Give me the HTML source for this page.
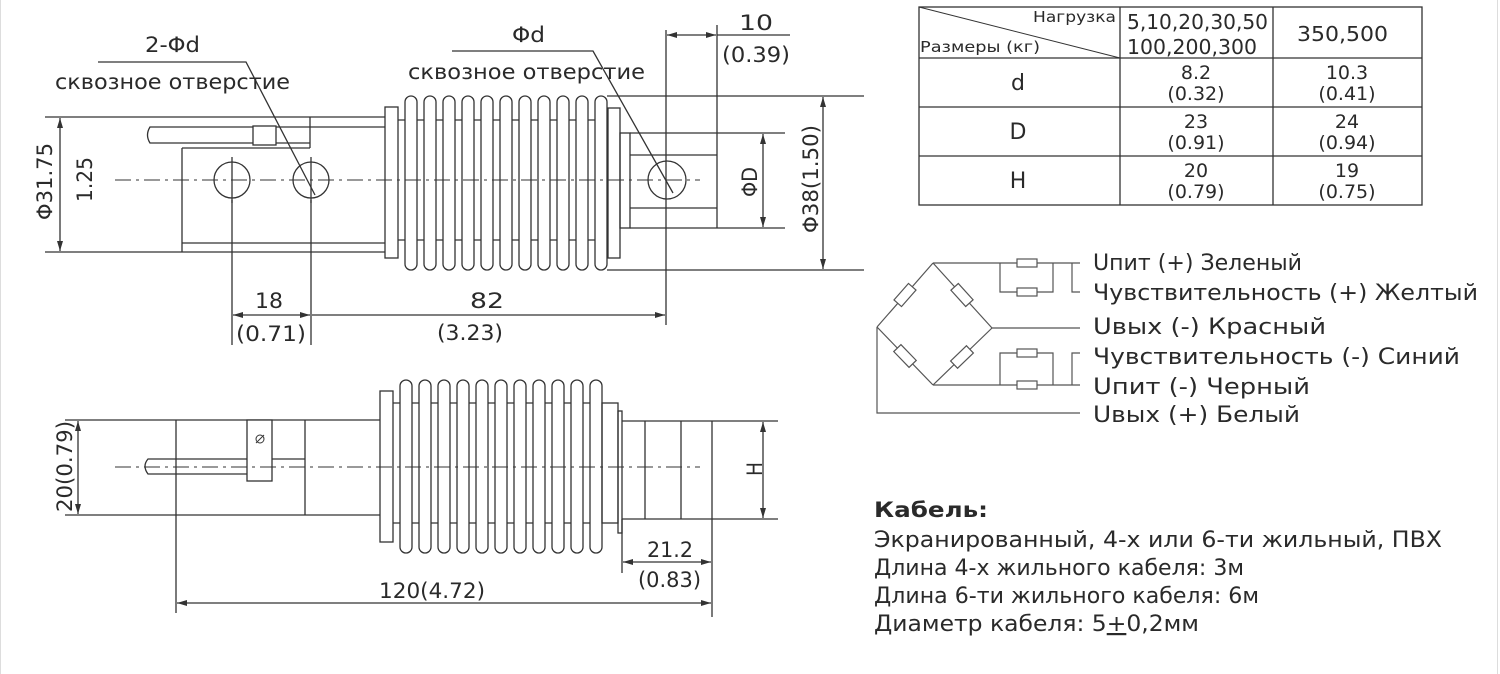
<!DOCTYPE html>
<html><head><meta charset="utf-8"><style>
html,body{margin:0;padding:0;background:#fff;}
svg{display:block;}
text{font-family:"DejaVu Sans","Liberation Sans",sans-serif;fill:#2a2a2a;}
</style></head><body>
<svg width="1500" height="674" viewBox="0 0 1500 674" xmlns="http://www.w3.org/2000/svg">
<defs>
<marker id="a" viewBox="0 0 10 6" refX="10" refY="3" markerWidth="10" markerHeight="6" orient="auto-start-reverse" markerUnits="userSpaceOnUse"><path d="M0,0 L10,3 L0,6" fill="#333"/></marker>
</defs>
<rect x="0.5" y="-1" width="1497" height="680" fill="none" stroke="#ddd"/>
<g stroke="#333" stroke-width="1.3" fill="none">
<line x1="45" y1="117" x2="310" y2="117"/>
<line x1="45" y1="252" x2="385" y2="252"/>
<line x1="60" y1="118" x2="60" y2="251" marker-start="url(#a)" marker-end="url(#a)"/>
<line x1="182" y1="148" x2="182" y2="252"/>
<line x1="182" y1="148" x2="310" y2="148"/>
<line x1="182" y1="243" x2="385" y2="243"/>
<path d="M310,127 L150,127 Q145,135 150,143 L310,143"/>
<rect x="253" y="126" width="23" height="19" fill="#fff"/>
<line x1="310" y1="117" x2="310" y2="148"/>
<line x1="310" y1="117" x2="385" y2="117"/>
<line x1="310" y1="127" x2="385" y2="127"/>
<circle cx="232" cy="180" r="18"/>
<circle cx="311" cy="180" r="18"/>
<line x1="232" y1="157" x2="232" y2="203"/>
<line x1="311" y1="157" x2="311" y2="203"/>
<line x1="232" y1="200" x2="232" y2="345"/>
<line x1="311" y1="200" x2="311" y2="345"/>
<line x1="233" y1="315" x2="310" y2="315" marker-start="url(#a)" marker-end="url(#a)"/>
<line x1="312" y1="315" x2="665" y2="315" marker-end="url(#a)"/>
<rect x="385" y="107" width="13" height="151"/>
<line x1="398" y1="120" x2="607" y2="120"/>
<line x1="398" y1="240" x2="607" y2="240"/>
<g fill="#fff">
<rect x="405" y="96" width="12" height="174" rx="6"/><rect x="424" y="96" width="12" height="174" rx="6"/><rect x="443" y="96" width="12" height="174" rx="6"/><rect x="462" y="96" width="12" height="174" rx="6"/><rect x="481" y="96" width="12" height="174" rx="6"/><rect x="500" y="96" width="12" height="174" rx="6"/><rect x="519" y="96" width="12" height="174" rx="6"/><rect x="538" y="96" width="12" height="174" rx="6"/><rect x="557" y="96" width="12" height="174" rx="6"/><rect x="576" y="96" width="12" height="174" rx="6"/><rect x="595" y="96" width="12" height="174" rx="6"/>
</g>
<rect x="608" y="108" width="12" height="150"/>
<rect x="620" y="133" width="10" height="95"/>
<line x1="607" y1="96" x2="864" y2="96"/>
<line x1="607" y1="270" x2="864" y2="270"/>
<line x1="630" y1="133" x2="785" y2="133"/>
<line x1="630" y1="228" x2="785" y2="228"/>
<line x1="630" y1="155" x2="717" y2="155"/>
<line x1="630" y1="208" x2="717" y2="208"/>
<circle cx="667" cy="180" r="19"/>
<line x1="666" y1="30" x2="666" y2="325"/>
<line x1="717" y1="25" x2="717" y2="228"/>
<line x1="667" y1="35" x2="716" y2="35" marker-start="url(#a)" marker-end="url(#a)"/>
<line x1="717" y1="35" x2="790" y2="35"/>
<line x1="763" y1="134" x2="763" y2="227" marker-start="url(#a)" marker-end="url(#a)"/>
<line x1="823" y1="97" x2="823" y2="269" marker-start="url(#a)" marker-end="url(#a)"/>
<line x1="115" y1="180" x2="700" y2="180" stroke-dasharray="16,5,3,5" stroke-width="1.1"/>
<polyline points="98,62 246,62 315,195"/>
<polyline points="452,51 593,51 673,193"/>
<line x1="65" y1="420" x2="380" y2="420"/>
<line x1="65" y1="515" x2="380" y2="515"/>
<line x1="78" y1="421" x2="78" y2="514" marker-start="url(#a)" marker-end="url(#a)"/>
<line x1="176" y1="420" x2="176" y2="613"/>
<line x1="305" y1="420" x2="305" y2="515"/>
<path d="M305,459 L148,459 Q142,466 148,474 L247,474"/>
<rect x="247" y="420" width="25" height="61" fill="#fff"/>
<circle cx="260" cy="439" r="4" stroke-width="1"/>
<line x1="256" y1="443" x2="264" y2="435" stroke-width="1"/>
<rect x="380" y="391" width="13" height="151"/>
<line x1="393" y1="403" x2="602" y2="403"/>
<line x1="393" y1="523" x2="602" y2="523"/>
<g fill="#fff">
<rect x="400" y="380" width="12" height="173" rx="6"/><rect x="419" y="380" width="12" height="173" rx="6"/><rect x="438" y="380" width="12" height="173" rx="6"/><rect x="457" y="380" width="12" height="173" rx="6"/><rect x="476" y="380" width="12" height="173" rx="6"/><rect x="495" y="380" width="12" height="173" rx="6"/><rect x="514" y="380" width="12" height="173" rx="6"/><rect x="533" y="380" width="12" height="173" rx="6"/><rect x="552" y="380" width="12" height="173" rx="6"/><rect x="571" y="380" width="12" height="173" rx="6"/><rect x="590" y="380" width="12" height="173" rx="6"/>
</g>
<rect x="602" y="403" width="16" height="120"/>
<rect x="618" y="411" width="4" height="122"/>
<line x1="622" y1="421" x2="778" y2="421"/>
<line x1="622" y1="519" x2="778" y2="519"/>
<line x1="645" y1="421" x2="645" y2="519"/>
<line x1="681" y1="421" x2="681" y2="519"/>
<line x1="712" y1="421" x2="712" y2="617"/>
<line x1="763" y1="422" x2="763" y2="518" marker-start="url(#a)" marker-end="url(#a)"/>
<line x1="622" y1="519" x2="622" y2="573"/>
<line x1="623" y1="562" x2="711" y2="562" marker-start="url(#a)" marker-end="url(#a)"/>
<line x1="177" y1="603" x2="711" y2="603" marker-start="url(#a)" marker-end="url(#a)"/>
<line x1="115" y1="467" x2="700" y2="467" stroke-dasharray="16,5,3,5" stroke-width="1.1"/>
<rect x="919" y="7" width="503" height="198"/>
<line x1="1120" y1="7" x2="1120" y2="205"/>
<line x1="1273" y1="7" x2="1273" y2="205"/>
<line x1="919" y1="58" x2="1422" y2="58"/>
<line x1="919" y1="107" x2="1422" y2="107"/>
<line x1="919" y1="156" x2="1422" y2="156"/>
<line x1="919" y1="7" x2="1120" y2="58" stroke-width="1"/>
<g stroke="#555" stroke-width="1.2">
<polyline points="933,263 1080,263"/>
<polyline points="933,385 1080,385"/>
<polyline points="992,328 1080,328"/>
<polyline points="877,327 877,413 1080,413"/>
<line x1="933" y1="263" x2="877" y2="327"/>
<line x1="933" y1="263" x2="992" y2="328"/>
<line x1="877" y1="327" x2="933" y2="385"/>
<line x1="992" y1="328" x2="933" y2="385"/>
<rect x="-11" y="-5" width="22" height="10" transform="translate(905,295) rotate(-48.8)" fill="#fff"/>
<rect x="-11" y="-5" width="22" height="10" transform="translate(962,295) rotate(47.8)" fill="#fff"/>
<rect x="-11" y="-5" width="22" height="10" transform="translate(905,356) rotate(46)" fill="#fff"/>
<rect x="-11" y="-5" width="22" height="10" transform="translate(962,357) rotate(-44)" fill="#fff"/>
<polyline points="1000,263 1000,292 1053,292 1053,263"/>
<rect x="1017" y="259" width="20" height="8" fill="#fff"/>
<rect x="1017" y="288" width="20" height="8" fill="#fff"/>
<polyline points="1072,263 1072,292 1080,292"/>
<polyline points="1000,385 1000,353 1053,353 1053,385"/>
<rect x="1017" y="349" width="20" height="8" fill="#fff"/>
<rect x="1017" y="381" width="20" height="8" fill="#fff"/>
<polyline points="1080,353 1072,353 1072,385"/>
</g>
</g>
<g font-size="21">
<text x="145" y="52" textLength="55" lengthAdjust="spacingAndGlyphs">2-Φd</text>
<text x="55" y="89" textLength="235" lengthAdjust="spacingAndGlyphs">сквозное отверстие</text>
<text x="512" y="42" textLength="33" lengthAdjust="spacingAndGlyphs">Φd</text>
<text x="408" y="79" textLength="237" lengthAdjust="spacingAndGlyphs">сквозное отверстие</text>
<text x="739" y="30" textLength="34" lengthAdjust="spacingAndGlyphs">10</text>
<text x="722" y="62" textLength="68" lengthAdjust="spacingAndGlyphs">(0.39)</text>
<text x="255" y="308" textLength="28" lengthAdjust="spacingAndGlyphs">18</text>
<text x="236" y="341" textLength="70" lengthAdjust="spacingAndGlyphs">(0.71)</text>
<text x="470" y="308" textLength="34" lengthAdjust="spacingAndGlyphs">82</text>
<text x="437" y="340" textLength="66" lengthAdjust="spacingAndGlyphs">(3.23)</text>
<text transform="translate(52,220) rotate(-90)" textLength="77" lengthAdjust="spacingAndGlyphs">Φ31.75</text>
<text transform="translate(92,202) rotate(-90)" textLength="45" lengthAdjust="spacingAndGlyphs">1.25</text>
<text transform="translate(757,197) rotate(-90)" textLength="30" lengthAdjust="spacingAndGlyphs">ΦD</text>
<text transform="translate(818,233) rotate(-90)" textLength="108" lengthAdjust="spacingAndGlyphs">Φ38(1.50)</text>
<text transform="translate(72,512) rotate(-90)" textLength="91" lengthAdjust="spacingAndGlyphs">20(0.79)</text>
<text transform="translate(762,476) rotate(-90)" textLength="14" lengthAdjust="spacingAndGlyphs">H</text>
<text x="647" y="557" textLength="46" lengthAdjust="spacingAndGlyphs">21.2</text>
<text x="638" y="587" textLength="63" lengthAdjust="spacingAndGlyphs">(0.83)</text>
<text x="379" y="598" textLength="106" lengthAdjust="spacingAndGlyphs">120(4.72)</text>
</g>
<g font-size="20" text-anchor="middle">
<text x="1033" y="22" font-size="15" text-anchor="start" textLength="83" lengthAdjust="spacingAndGlyphs">Нагрузка</text>
<text x="920" y="52" font-size="15" text-anchor="start" textLength="120" lengthAdjust="spacingAndGlyphs">Размеры (кг)</text>
<text x="1127" y="29" text-anchor="start" textLength="141" lengthAdjust="spacingAndGlyphs">5,10,20,30,50</text>
<text x="1127" y="54" text-anchor="start" textLength="130" lengthAdjust="spacingAndGlyphs">100,200,300</text>
<text x="1297" y="41" text-anchor="start" textLength="91" lengthAdjust="spacingAndGlyphs">350,500</text>
<text x="1018" y="90" font-size="22">d</text>
<text x="1018" y="139" font-size="22">D</text>
<text x="1018" y="188" font-size="22">H</text>
<g font-size="19">
<text x="1196" y="79">8.2</text><text x="1196" y="100">(0.32)</text>
<text x="1347" y="79">10.3</text><text x="1347" y="100">(0.41)</text>
<text x="1196" y="128">23</text><text x="1196" y="149">(0.91)</text>
<text x="1347" y="128">24</text><text x="1347" y="149">(0.94)</text>
<text x="1196" y="177">20</text><text x="1196" y="198">(0.79)</text>
<text x="1347" y="177">19</text><text x="1347" y="198">(0.75)</text>
</g>
</g>
<g font-size="22">
<text x="1093" y="270" textLength="209" lengthAdjust="spacingAndGlyphs">Uпит (+) Зеленый</text>
<text x="1093" y="300" textLength="385" lengthAdjust="spacingAndGlyphs">Чувствительность (+) Желтый</text>
<text x="1093" y="334" textLength="233" lengthAdjust="spacingAndGlyphs">Uвых (-) Красный</text>
<text x="1093" y="364" textLength="367" lengthAdjust="spacingAndGlyphs">Чувствительность (-) Синий</text>
<text x="1093" y="394" textLength="217" lengthAdjust="spacingAndGlyphs">Uпит (-) Черный</text>
<text x="1093" y="422" textLength="207" lengthAdjust="spacingAndGlyphs">Uвых (+) Белый</text>
</g>
<g font-size="22" font-family="Liberation Sans,sans-serif">
<text x="874" y="517" font-weight="bold" font-size="21" textLength="114" lengthAdjust="spacingAndGlyphs">Кабель:</text>
<text x="874" y="547" textLength="568" lengthAdjust="spacingAndGlyphs">Экранированный, 4-х или 6-ти жильный, ПВХ</text>
<text x="874" y="575" textLength="370" lengthAdjust="spacingAndGlyphs">Длина 4-х жильного кабеля: 3м</text>
<text x="874" y="603" textLength="385" lengthAdjust="spacingAndGlyphs">Длина 6-ти жильного кабеля: 6м</text>
<text x="874" y="631" textLength="325" lengthAdjust="spacingAndGlyphs">Диаметр кабеля: 5<tspan text-decoration="underline">+</tspan>0,2мм</text>
</g>
</svg>
</body></html>
